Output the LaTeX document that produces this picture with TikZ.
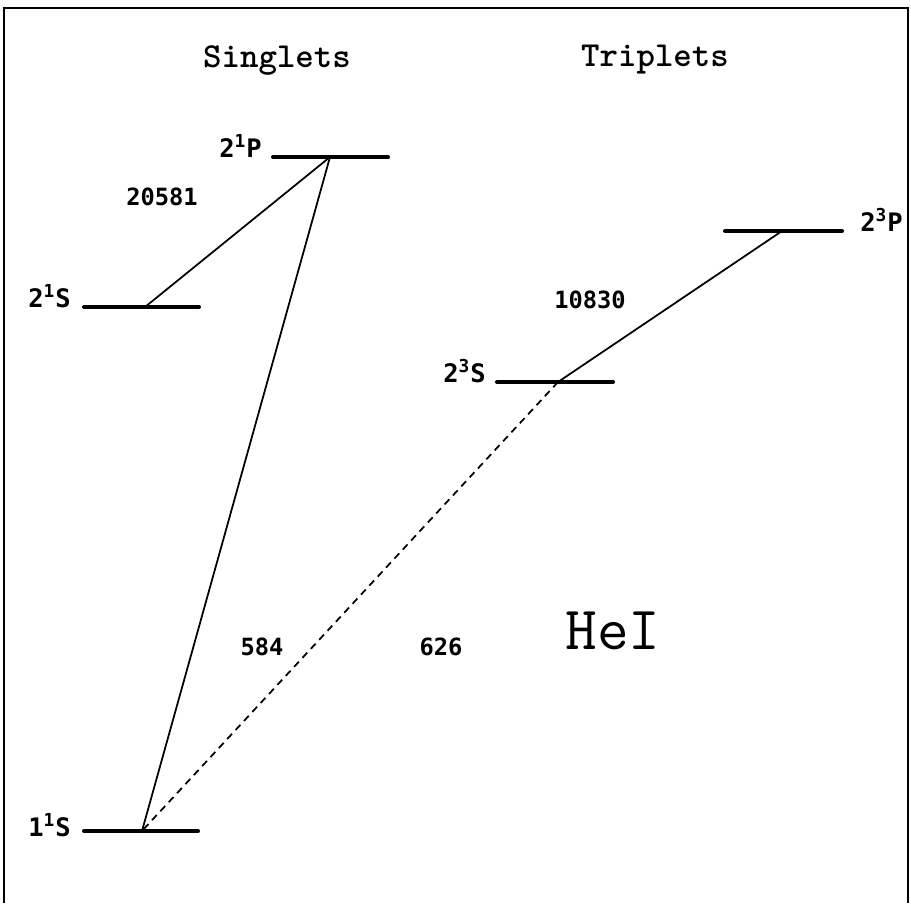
\documentclass[tikz,border=0pt]{standalone}
\usepackage{fontspec}
\newfontfamily\lvlfont{DejaVu Sans Mono}
\begin{document}
\begin{tikzpicture}[x=0.02cm, y=-0.02cm,
  level/.style={line width=2.3pt, line cap=round},
  trans/.style={line width=1pt},
  lvllabel/.style={font=\lvlfont\bfseries\fontsize{14.5}{17}\selectfont, inner sep=0pt},
  wavelabel/.style={font=\lvlfont\bfseries\fontsize{13.5}{16}\selectfont, inner sep=0pt},
  title/.style={font=\ttfamily\bfseries\fontsize{20}{24}\selectfont, inner sep=0pt}]
\useasboundingbox (0,0) rectangle (911,903);
% frame
\draw[line width=1.4pt] (4,903) -- (4,8) -- (908,8) -- (908,903);
% headings
\node[title] (singlets) at (277,60) {Singlets};
\node[title] (triplets) at (655,60) {Triplets};
% levels
\coordinate (p1l) at (273,157); \coordinate (p1r) at (388,157);
\coordinate (s1l) at (84,307);  \coordinate (s1r) at (199,307);
\coordinate (p3l) at (725,231); \coordinate (p3r) at (842,231);
\coordinate (s3l) at (497,382); \coordinate (s3r) at (613,382);
\coordinate (g1l) at (84,831);  \coordinate (g1r) at (198,831);
\draw[level] (p1l) -- (p1r);
\draw[level] (s1l) -- (s1r);
\draw[level] (p3l) -- (p3r);
\draw[level] (s3l) -- (s3r);
\draw[level] (g1l) -- (g1r);
\node[lvllabel, anchor=base east] (p1lab) at (262,157) {2\textsuperscript{1}P};
\node[lvllabel, anchor=base east] (s1lab) at (71,307) {2\textsuperscript{1}S};
\node[lvllabel, anchor=base west] (p3lab) at (860,231) {2\textsuperscript{3}P};
\node[lvllabel, anchor=base east] (s3lab) at (486,382) {2\textsuperscript{3}S};
\node[lvllabel, anchor=base east] (g1lab) at (71,836) {1\textsuperscript{1}S};
% transitions
\coordinate (p1) at (330,157);
\coordinate (s1) at (145,307);
\coordinate (p3) at (782,231);
\coordinate (s3) at (558,382);
\coordinate (g1) at (142,831);
\draw[trans] (p1) -- (s1);
\draw[trans] (p1) -- (g1);
\draw[trans] (p3) -- (s3);
\draw[trans, dash pattern=on 4pt off 3pt] (s3) -- (g1);
\node[wavelabel] (w20581) at (162,197) {20581};
\node[wavelabel] (w10830) at (590,300) {10830};
\node[wavelabel] (w584) at (262,647) {584};
\node[wavelabel] (w626) at (441,647) {626};
\node[title, font=\ttfamily\fontsize{35}{40}\selectfont] (hei) at (613,631) {HeI};
\end{tikzpicture}
\end{document}
